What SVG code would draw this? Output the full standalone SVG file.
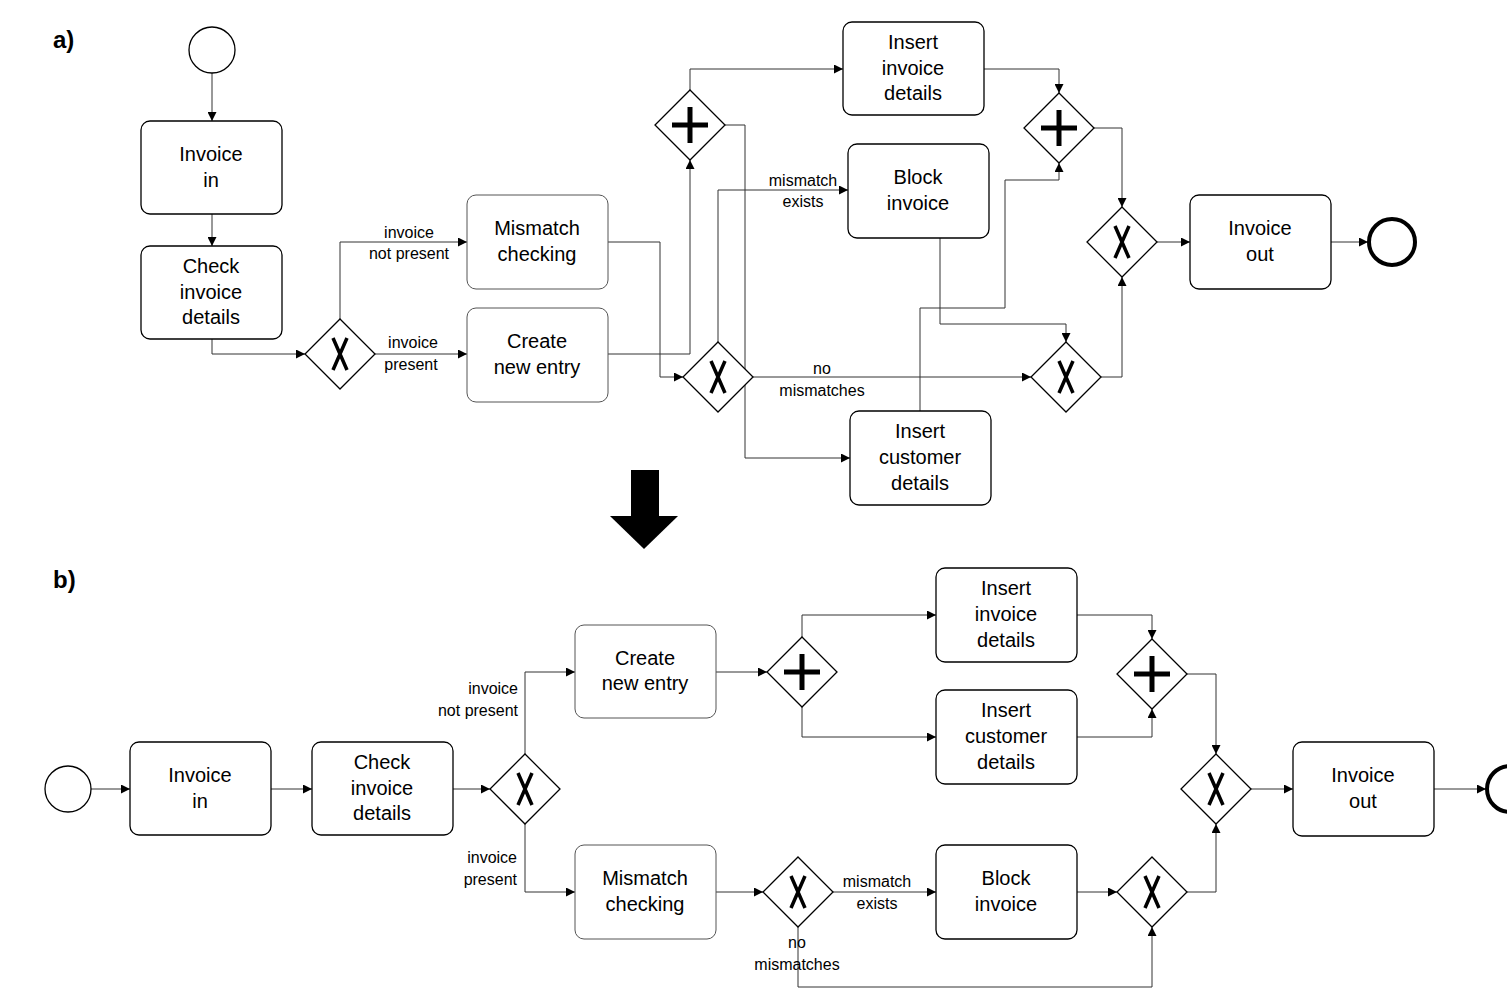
<svg xmlns="http://www.w3.org/2000/svg" width="1507" height="1007" viewBox="0 0 1507 1007">
<defs>
<marker id="ar" viewBox="0 0 10 10" refX="10" refY="5" markerWidth="9" markerHeight="9" markerUnits="userSpaceOnUse" orient="auto"><path d="M0,0 L10,5 L0,10 z" fill="#000"/></marker>
<style>
.t{fill:#fff;stroke:#000;stroke-width:1.3}
.tl{fill:#fff;stroke:#555;stroke-width:1}
.tx{font-family:"Liberation Sans",Arial,sans-serif;font-size:20px;text-anchor:middle;fill:#000}
.lb{font-family:"Liberation Sans",Arial,sans-serif;font-size:16px;text-anchor:middle;fill:#000}
.c path{fill:none;stroke:#333;stroke-width:1;marker-end:url(#ar)}
.g{fill:#fff;stroke:#000;stroke-width:1.3}
.sym{stroke:#000;stroke-width:5;fill:none}
.xs{stroke:#000;stroke-width:3.5;fill:none}
</style>
</defs>
<rect width="1507" height="1007" fill="#fff"/>
<text x="53" y="48" font-family="Liberation Sans,Arial,sans-serif" font-size="24" font-weight="bold">a)</text>
<text x="53" y="588" font-family="Liberation Sans,Arial,sans-serif" font-size="24" font-weight="bold">b)</text>
<g id="bigarrow"><rect x="631" y="470" width="28" height="47" fill="#000"/><path d="M610,516 L678,516 L644,549 z" fill="#000"/></g>

<g class="c" id="connectors-a">
<path d="M212,73 V121"/>
<path d="M212,214 V246"/>
<path d="M212,339 V354 H305"/>
<path d="M340,319 V242 H467"/>
<path d="M375,354 H467"/>
<path d="M608,242 H660 V377 H683"/>
<path d="M608,354 H690 V160"/>
<path d="M690,90 V69 H843"/>
<path d="M725,125 H745 V458 H850"/>
<path d="M718,342 V190 H848"/>
<path d="M753,377 H1031"/>
<path d="M984,69 H1059 V93"/>
<path d="M940,238 V324 H1066 V342"/>
<path d="M920,411 V308 H1005 V180 H1059 V163"/>
<path d="M1094,128 H1122 V207"/>
<path d="M1101,377 H1122 V277"/>
<path d="M1157,242 H1190"/>
<path d="M1331,242 H1368"/>
</g>
<g id="labels-a">
<text class="lb" x="409" y="238">invoice</text><text class="lb" x="409" y="259">not present</text>
<text class="lb" x="413" y="348">invoice</text><text class="lb" x="411" y="370">present</text>
<text class="lb" x="803" y="186">mismatch</text><text class="lb" x="803" y="207">exists</text>
<text class="lb" x="822" y="374">no</text><text class="lb" x="822" y="396">mismatches</text>
</g>
<g id="a-start"><circle cx="212" cy="50" r="23" class="t"/></g>
<g id="a-invin"><rect x="141" y="121" width="141" height="93" rx="9" class="t"/><text class="tx" x="211" y="161">Invoice</text><text class="tx" x="211" y="187">in</text></g>
<g id="a-check"><rect x="141" y="246" width="141" height="93" rx="9" class="t"/><text class="tx" x="211" y="273">Check</text><text class="tx" x="211" y="299">invoice</text><text class="tx" x="211" y="324">details</text></g>
<g id="a-g1"><path d="M340,319 L375,354 L340,389 L305,354 z" class="g"/><path d="M333,338 L347,370 M347,338 L333,370" class="xs"/></g>
<g id="a-mis"><rect x="467" y="195" width="141" height="94" rx="9" class="tl"/><text class="tx" x="537" y="235">Mismatch</text><text class="tx" x="537" y="261">checking</text></g>
<g id="a-create"><rect x="467" y="308" width="141" height="94" rx="9" class="tl"/><text class="tx" x="537" y="348">Create</text><text class="tx" x="537" y="374">new entry</text></g>
<g id="a-g2"><path d="M690,90 L725,125 L690,160 L655,125 z" class="g"/><path d="M690,107 V143 M672,125 H708" class="sym"/></g>
<g id="a-insinv"><rect x="843" y="22" width="141" height="93" rx="9" class="t"/><text class="tx" x="913" y="49">Insert</text><text class="tx" x="913" y="75">invoice</text><text class="tx" x="913" y="100">details</text></g>
<g id="a-block"><rect x="848" y="144" width="141" height="94" rx="9" class="t"/><text class="tx" x="918" y="184">Block</text><text class="tx" x="918" y="210">invoice</text></g>
<g id="a-g3"><path d="M718,342 L753,377 L718,412 L683,377 z" class="g"/><path d="M711,361 L725,393 M725,361 L711,393" class="xs"/></g>
<g id="a-inscust"><rect x="850" y="411" width="141" height="94" rx="9" class="t"/><text class="tx" x="920" y="438">Insert</text><text class="tx" x="920" y="464">customer</text><text class="tx" x="920" y="490">details</text></g>
<g id="a-g4"><path d="M1059,93 L1094,128 L1059,163 L1024,128 z" class="g"/><path d="M1059,110 V146 M1041,128 H1077" class="sym"/></g>
<g id="a-g5"><path d="M1066,342 L1101,377 L1066,412 L1031,377 z" class="g"/><path d="M1059,361 L1073,393 M1073,361 L1059,393" class="xs"/></g>
<g id="a-g6"><path d="M1122,207 L1157,242 L1122,277 L1087,242 z" class="g"/><path d="M1115,226 L1129,258 M1129,226 L1115,258" class="xs"/></g>
<g id="a-invout"><rect x="1190" y="195" width="141" height="94" rx="9" class="t"/><text class="tx" x="1260" y="235">Invoice</text><text class="tx" x="1260" y="261">out</text></g>
<g id="a-end"><circle cx="1392" cy="242" r="23" fill="#fff" stroke="#000" stroke-width="4"/></g>

<g class="c" id="connectors-b">
<path d="M91,789 H130"/>
<path d="M271,789 H312"/>
<path d="M453,789 H490"/>
<path d="M525,754 V672 H575"/>
<path d="M525,824 V892 H575"/>
<path d="M716,672 H767"/>
<path d="M802,637 V615 H936"/>
<path d="M802,707 V737 H936"/>
<path d="M1077,615 H1152 V639"/>
<path d="M1077,737 H1152 V709"/>
<path d="M1187,674 H1216 V754"/>
<path d="M1251,789 H1293"/>
<path d="M1434,789 H1486"/>
<path d="M716,892 H763"/>
<path d="M833,892 H936"/>
<path d="M1077,892 H1117"/>
<path d="M798,927 V987 H1152 V927"/>
<path d="M1187,892 H1216 V824"/>
</g>
<g id="labels-b">
<text class="lb" x="518" y="694" text-anchor="end" style="text-anchor:end">invoice</text><text class="lb" x="518" y="716" style="text-anchor:end">not present</text>
<text class="lb" x="517" y="863" style="text-anchor:end">invoice</text><text class="lb" x="517" y="885" style="text-anchor:end">present</text>
<text class="lb" x="877" y="887">mismatch</text><text class="lb" x="877" y="909">exists</text>
<text class="lb" x="797" y="948">no</text><text class="lb" x="797" y="970">mismatches</text>
</g>
<g id="b-start"><circle cx="68" cy="789" r="23" class="t"/></g>
<g id="b-invin"><rect x="130" y="742" width="141" height="93" rx="9" class="t"/><text class="tx" x="200" y="782">Invoice</text><text class="tx" x="200" y="808">in</text></g>
<g id="b-check"><rect x="312" y="742" width="141" height="93" rx="9" class="t"/><text class="tx" x="382" y="769">Check</text><text class="tx" x="382" y="795">invoice</text><text class="tx" x="382" y="820">details</text></g>
<g id="b-g1"><path d="M525,754 L560,789 L525,824 L490,789 z" class="g"/><path d="M518,773 L532,805 M532,773 L518,805" class="xs"/></g>
<g id="b-create"><rect x="575" y="625" width="141" height="93" rx="9" class="tl"/><text class="tx" x="645" y="665">Create</text><text class="tx" x="645" y="690">new entry</text></g>
<g id="b-g2"><path d="M802,637 L837,672 L802,707 L767,672 z" class="g"/><path d="M802,654 V690 M784,672 H820" class="sym"/></g>
<g id="b-insinv"><rect x="936" y="568" width="141" height="94" rx="9" class="t"/><text class="tx" x="1006" y="595">Insert</text><text class="tx" x="1006" y="621">invoice</text><text class="tx" x="1006" y="647">details</text></g>
<g id="b-inscust"><rect x="936" y="690" width="141" height="94" rx="9" class="t"/><text class="tx" x="1006" y="717">Insert</text><text class="tx" x="1006" y="743">customer</text><text class="tx" x="1006" y="769">details</text></g>
<g id="b-g3"><path d="M1152,639 L1187,674 L1152,709 L1117,674 z" class="g"/><path d="M1152,656 V692 M1134,674 H1170" class="sym"/></g>
<g id="b-g4"><path d="M1216,754 L1251,789 L1216,824 L1181,789 z" class="g"/><path d="M1209,773 L1223,805 M1223,773 L1209,805" class="xs"/></g>
<g id="b-invout"><rect x="1293" y="742" width="141" height="94" rx="9" class="t"/><text class="tx" x="1363" y="782">Invoice</text><text class="tx" x="1363" y="808">out</text></g>
<g id="b-end"><circle cx="1510" cy="789" r="23" fill="#fff" stroke="#000" stroke-width="4"/></g>
<g id="b-mis"><rect x="575" y="845" width="141" height="94" rx="9" class="tl"/><text class="tx" x="645" y="885">Mismatch</text><text class="tx" x="645" y="911">checking</text></g>
<g id="b-g5"><path d="M798,857 L833,892 L798,927 L763,892 z" class="g"/><path d="M791,876 L805,908 M805,876 L791,908" class="xs"/></g>
<g id="b-block"><rect x="936" y="845" width="141" height="94" rx="9" class="t"/><text class="tx" x="1006" y="885">Block</text><text class="tx" x="1006" y="911">invoice</text></g>
<g id="b-g6"><path d="M1152,857 L1187,892 L1152,927 L1117,892 z" class="g"/><path d="M1145,876 L1159,908 M1159,876 L1145,908" class="xs"/></g>
</svg>
